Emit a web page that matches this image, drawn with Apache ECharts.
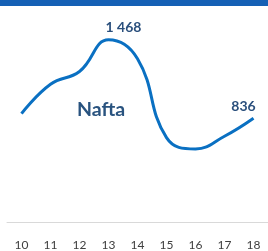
<!DOCTYPE html>
<html><head><meta charset="utf-8">
<script src="https://cdn.jsdelivr.net/npm/echarts@6/dist/echarts.min.js"></script>
<style>html,body{margin:0;padding:0;background:#fff}#c{width:268px;height:251px}</style>
</head><body><div id="c"></div>
<script>
var categories = ['10','11','12','13','14','15','16','17','18'];
var naftaValues = [873, 1110, 1213, 1468, 1315, 680, 589, 691, 836];
var labelledIndices = [3, 8];
var seriesName = 'Nafta';

var chart = echarts.init(document.getElementById('c'), null, {renderer: 'canvas'});
var data = naftaValues.map(function (v, i) {
  var item = {value: v};
  if (labelledIndices.indexOf(i) >= 0) {
    item.label = {show: true,
      position: 'top', distance: 5, offset: i === 3 ? [15, 0] : [-10, 0]};
  }
  return item;
});
chart.setOption({
  animation: false,
  grid: {left: 7, width: 264, top: 11, bottom: 24},
  xAxis: {type: 'category', data: categories, boundaryGap: true,
    axisLine: {lineStyle: {color: '#d9d9d9', width: 1}}, axisTick: {show: false},
    axisLabel: {color: '#404040', fontFamily: 'Lato', fontSize: 12, margin: 17}},
  yAxis: {type: 'value', min: 0, max: 1700, show: false, splitLine: {show: false}},
  series: [{type: 'line', name: seriesName, data: data, smooth: 0.45, showSymbol: true, symbol: 'circle', symbolSize: 0,
    lineStyle: {color: '#0a70c2', width: 3}, itemStyle: {color: '#0a70c2'},
    label: {show: false, color: '#2a4f7c', fontFamily: 'Lato', fontWeight: 'bold', fontSize: 14,
      formatter: function (p) { return String(p.value).replace(/\B(?=(\d{3})+(?!\d))/g, ' '); }}}],
  graphic: [
    {type: 'rect', left: 0, top: 0, shape: {width: 268, height: 6}, style: {fill: '#1560b5'}, z: 10},
    {type: 'text', left: 77, top: 100, style: {text: seriesName, fill: '#29537f', font: 'bold 19.5px Lato'}, z: 10}
  ]
});
</script></body></html>
